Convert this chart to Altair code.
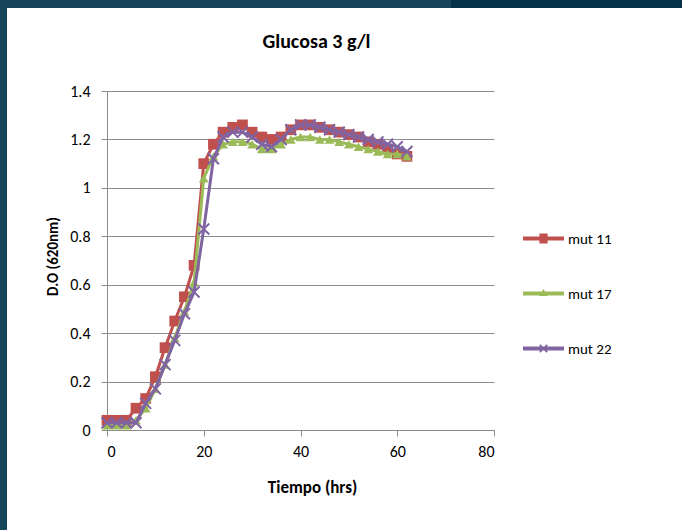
import altair as alt
import pandas as pd

# ---------------- data ----------------
hours = [0, 2, 4, 6, 8, 10, 12, 14, 16, 18, 20, 22, 24, 26, 28, 30,
         32, 34, 36, 38, 40, 42, 44, 46, 48, 50, 52, 54, 56, 58, 60, 62]
mut11 = [0.04, 0.04, 0.04, 0.09, 0.13, 0.22, 0.34, 0.45, 0.55, 0.68, 1.10, 1.18,
         1.23, 1.25, 1.26, 1.23, 1.21, 1.20, 1.21, 1.24, 1.26, 1.26, 1.25, 1.24,
         1.23, 1.22, 1.21, 1.19, 1.18, 1.16, 1.14, 1.13]
mut17 = [0.02, 0.02, 0.02, 0.04, 0.09, 0.17, 0.27, 0.38, 0.49, 0.61, 1.04, 1.13,
         1.18, 1.19, 1.19, 1.18, 1.16, 1.16, 1.18, 1.20, 1.21, 1.21, 1.20, 1.20,
         1.19, 1.18, 1.17, 1.16, 1.15, 1.14, 1.14, 1.13]
mut22 = [0.03, 0.03, 0.03, 0.03, 0.11, 0.17, 0.27, 0.37, 0.48, 0.57, 0.83, 1.12,
         1.21, 1.23, 1.23, 1.21, 1.18, 1.17, 1.20, 1.24, 1.26, 1.26, 1.25, 1.24,
         1.23, 1.22, 1.21, 1.20, 1.19, 1.18, 1.17, 1.15]
series_names = ["mut 11", "mut 17", "mut 22"]
x_ticks = [0, 20, 40, 60, 80]
y_ticks = [0, 0.2, 0.4, 0.6, 0.8, 1.0, 1.2, 1.4]

# ---------------- styles ----------------
colors = ["#C0504D", "#9BBB59", "#8064A2"]
FONT = "Calibri, Carlito, Lato, sans-serif"
AXIS_GRAY = "#8c8c8c"

legend_paths = [
    # line + square
    "M-1,-0.1H1V0.1H-1Z M-0.2,-0.24H0.2V0.24H-0.2Z",
    # line + triangle
    "M-1,-0.1H1V0.1H-1Z M-0.2,0.12L0,-0.22L0.2,0.12Z",
    # line + small x
    "M-1,-0.1H1V0.1H-1Z "
    "M-0.21,-0.15L-0.15,-0.21L0.21,0.15L0.15,0.21Z "
    "M-0.21,0.15L0.15,-0.21L0.21,-0.15L-0.15,0.21Z",
]

rows = []
for name, vals in zip(series_names, [mut11, mut17, mut22]):
    for t, v in zip(hours, vals):
        rows.append({"t": t, "od": v, "serie": name})
df = pd.DataFrame(rows)

color_scale = alt.Scale(domain=series_names, range=colors)
x_scale = alt.Scale(domain=[0, 80], nice=False, zero=False)
y_scale = alt.Scale(domain=[0, 1.4], nice=False)

x_axis = alt.Axis(
    values=x_ticks, grid=False, title="Tiempo (hrs)",
    domainColor=AXIS_GRAY, tickColor=AXIS_GRAY, tickSize=6,
    labelFont=FONT, labelFontSize=16, labelColor="#000", labelPadding=7,
    titleFont=FONT, titleFontSize=17, titleFontWeight="bold", titleColor="#000",
    titleX=205, titleY=57, titleBaseline="middle", titleAlign="center",
)
y_axis = alt.Axis(
    values=y_ticks, format="~g", grid=True, gridColor=AXIS_GRAY,
    title="D.O (620nm)",
    domainColor=AXIS_GRAY, tickColor=AXIS_GRAY, tickSize=6,
    labelFont=FONT, labelFontSize=16, labelColor="#000", labelPadding=11,
    titleFont=FONT, titleFontSize=15, titleFontWeight="bold", titleColor="#000",
    titleX=-55, titleY=165, titleBaseline="middle", titleAlign="center",
    titleAngle=270,
)
x_enc = alt.X("t:Q", scale=x_scale, axis=x_axis)
y_enc = alt.Y("od:Q", scale=y_scale, axis=y_axis)

base = alt.Chart(df)

layers = []

# decoration: slide border (outside the plot)
one = alt.Data(values=[{"k": 1}])
layers.append(alt.Chart(one).mark_rect(color="#17465b").encode(
    x=alt.value(-107), x2=alt.value(-100), y=alt.value(-91), y2=alt.value(439)))
layers.append(alt.Chart(one).mark_rect(color="#17435a").encode(
    x=alt.value(-107), x2=alt.value(344), y=alt.value(-91), y2=alt.value(-83)))
layers.append(alt.Chart(one).mark_rect(color="#04304a").encode(
    x=alt.value(344), x2=alt.value(575), y=alt.value(-91), y2=alt.value(-83)))

# legend-only layer (first, so its legend settings win); its points sit
# below the plot floor and are clipped away
leg_kwargs = dict(
    title=None, orient="none", legendX=416, legendY=127, padding=0,
    symbolSize=1681, rowPadding=26, labelFont=FONT, labelFontSize=15,
    labelColor="#000", labelOffset=4, symbolOpacity=1, symbolStrokeWidth=0,
)
layers.append(
    base.transform_calculate(hidden="-1")
    .mark_point(filled=True, opacity=1, clip=True)
    .encode(
        x=x_enc,
        y=alt.Y("hidden:Q", scale=y_scale, axis=y_axis),
        color=alt.Color("serie:N", scale=color_scale, legend=alt.Legend(**leg_kwargs)),
        shape=alt.Shape("serie:N",
                        scale=alt.Scale(domain=series_names, range=legend_paths),
                        legend=alt.Legend(**leg_kwargs)),
    )
)

marker_defs = [
    dict(shape="square", size=115, filled=True, strokeWidth=0),
    dict(shape="triangle-up", size=95, filled=True, strokeWidth=0),
    dict(shape="M-1,-1L1,1M-1,1L1,-1", size=121, filled=False, strokeWidth=2),
]

for name, md in zip(series_names, marker_defs):
    sub = base.transform_filter(alt.datum.serie == name)
    layers.append(sub.mark_line(strokeWidth=3).encode(
        x=x_enc, y=y_enc,
        color=alt.Color("serie:N", scale=color_scale)))
    layers.append(sub.mark_point(opacity=1, **md).encode(
        x=x_enc, y=y_enc,
        color=alt.Color("serie:N", scale=color_scale)))

chart = alt.layer(*layers).properties(
    width=387, height=339,
    autosize="none",
    padding={"left": 107, "top": 91, "right": 188, "bottom": 100},
    background="white",
    title=alt.TitleParams(
        "Glucosa 3 g/l", font=FONT, fontSize=20, fontWeight="bold", color="#000",
        anchor="middle", frame="group", baseline="bottom", dx=16, offset=-72,
    ),
).configure_view(stroke=None)

chart.save("out.html", embed_options={"renderer": "svg", "actions": False})
